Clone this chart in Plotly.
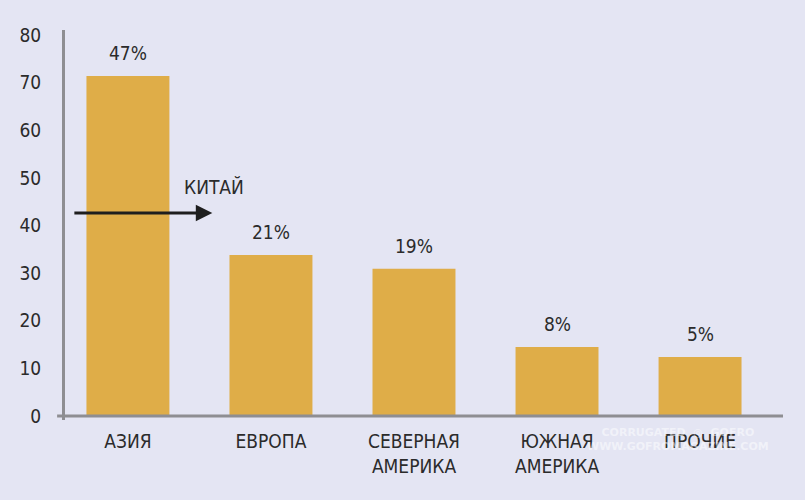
import plotly.graph_objects as go

regions = ["АЗИЯ", "ЕВРОПА", "СЕВЕРНАЯ<br>АМЕРИКА", "ЮЖНАЯ<br>АМЕРИКА", "ПРОЧИЕ"]
volumes = [71.4, 33.8, 30.9, 14.5, 12.4]
shares = ["47%", "21%", "19%", "8%", "5%"]
china_level = 42.6

bg = "#e4e5f3"
bar_color = "#dfad48"
axis_color = "#8e8e92"
text_color = "#2b2b2b"
font = "DejaVu Sans Condensed, Liberation Sans Narrow, sans-serif"

fig = go.Figure()
fig.add_trace(go.Bar(x=regions, y=volumes, marker=dict(color=bar_color, line=dict(width=0)),
                     width=0.58, hoverinfo="skip"))

# percentage labels above the bars
for r, v, s in zip(regions, volumes, shares):
    fig.add_annotation(x=r, y=v, text=s, showarrow=False, yshift=23,
                       font=dict(size=19, color=text_color, family=font))

# China arrow
fig.add_annotation(x=0.59, y=china_level, ax=-0.385, ay=china_level, xref="x", yref="y",
                   axref="x", ayref="y", text="", showarrow=True, arrowhead=2,
                   arrowsize=1.1, arrowwidth=3, arrowcolor="#1e1e1e")
fig.add_annotation(x=0.6, y=china_level, text="КИТАЙ", showarrow=False, yshift=26,
                   font=dict(size=19, color=text_color, family=font))

# faint watermark
fig.add_annotation(x=0.854, y=-0.051, xref="paper", yref="paper", xanchor="center", yanchor="middle",
                   text="<b>CORRUGATED  ◎  GOFRO</b><br><b>WWW.GOFROMAGAZINE.COM</b>",
                   showarrow=False, font=dict(size=11, color="rgba(255,255,255,0.5)", family="DejaVu Sans"))

# x axis line extending a bit left of the y axis
fig.add_shape(type="line", xref="paper", yref="y", x0=-0.011, x1=1.0, y0=0, y1=0,
              line=dict(color=axis_color, width=3))

fig.update_layout(
    width=805, height=500,
    paper_bgcolor=bg, plot_bgcolor=bg,
    margin=dict(l=65, r=22, t=30, b=80),
    showlegend=False,
    font=dict(family=font, size=19, color=text_color),
    xaxis=dict(range=[-0.44, 4.58], showgrid=False, showline=False, zeroline=False,
               ticks="", ticklabelstandoff=8,
               tickfont=dict(size=19, family=font, color=text_color)),
    yaxis=dict(range=[-0.84, 81.05], tickvals=[0, 10, 20, 30, 40, 50, 60, 70, 80],
               showgrid=False, zeroline=False, showline=True, linecolor=axis_color, linewidth=3,
               ticks="", ticklabelstandoff=17,
               tickfont=dict(size=19, family=font, color=text_color)),
)

fig.write_html("out.html", config={"displayModeBar": False},
               post_script="document.body.style.margin='0';")
